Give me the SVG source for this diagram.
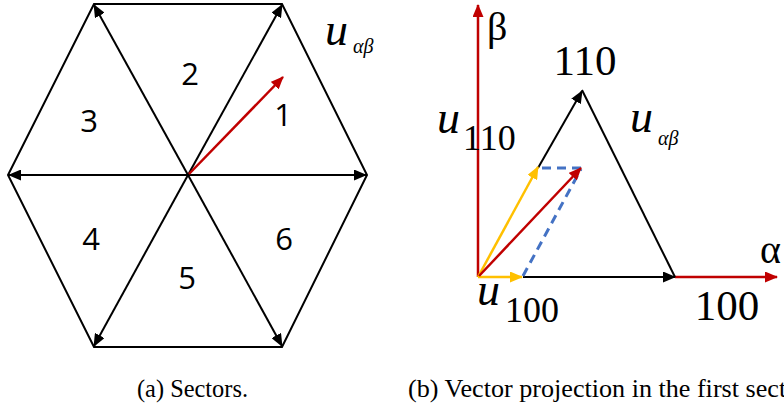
<svg xmlns="http://www.w3.org/2000/svg" width="784" height="405" viewBox="0 0 784 405">
<style>
.blk{stroke:#000;stroke-width:2;fill:none}
.red{stroke:#C00000;stroke-width:2.5;fill:none}
.ylw{stroke:#FFC000;stroke-width:2.5;fill:none}
.blu{stroke:#4472C4;stroke-width:3;fill:none;stroke-dasharray:9 6}
.dig{font-family:"Open Sans","Liberation Sans",sans-serif;font-size:31px;fill:#000;text-anchor:middle}
.mu{font-family:"Liberation Serif",serif;font-style:italic;font-size:46px;fill:#000}
.sub{font-family:"Liberation Serif",serif;font-style:italic;font-size:20px;fill:#000}
.num{font-family:"Liberation Serif",serif;font-size:43px;fill:#000}
.snum{font-family:"Liberation Serif",serif;font-size:36px;fill:#000}
.cap{font-family:"Liberation Serif","DejaVu Serif",serif;font-size:26px;fill:#000}
</style>
<defs>
<marker id="ab" markerUnits="userSpaceOnUse" viewBox="0 0 13 11" refX="12" refY="5.5" markerWidth="13" markerHeight="11" orient="auto"><path d="M0,0 L13,5.5 L0,11 z" fill="#000"/></marker>
<marker id="ar" markerUnits="userSpaceOnUse" viewBox="0 0 13 11" refX="12" refY="5.5" markerWidth="13" markerHeight="11" orient="auto"><path d="M0,0 L13,5.5 L0,11 z" fill="#C00000"/></marker>
<marker id="ay" markerUnits="userSpaceOnUse" viewBox="0 0 13 11" refX="12" refY="5.5" markerWidth="13" markerHeight="11" orient="auto"><path d="M0,0 L13,5.5 L0,11 z" fill="#FFC000"/></marker>
</defs>

<g id="hexagon">
<polygon class="blk" points="94,4 282,4 367,175 282,347 94,347 8,175"/>
</g>
<g id="connectors-a">
<line class="blk" x1="188" y1="175" x2="282" y2="5" marker-end="url(#ab)"/>
<line class="blk" x1="188" y1="175" x2="94" y2="5" marker-end="url(#ab)"/>
<line class="blk" x1="188" y1="175" x2="9" y2="175" marker-end="url(#ab)"/>
<line class="blk" x1="188" y1="175" x2="366" y2="175" marker-end="url(#ab)"/>
<line class="blk" x1="188" y1="175" x2="94" y2="346" marker-end="url(#ab)"/>
<line class="blk" x1="188" y1="175" x2="282" y2="346" marker-end="url(#ab)"/>
<line class="red" x1="189" y1="174" x2="283" y2="77" marker-end="url(#ar)"/>
</g>
<g id="sector-labels">
<text class="dig" x="190" y="85">2</text>
<text class="dig" x="89" y="132">3</text>
<text class="dig" x="283" y="126">1</text>
<text class="dig" x="91" y="250">4</text>
<text class="dig" x="187" y="289">5</text>
<text class="dig" x="284" y="250">6</text>
<text class="mu" x="325" y="45">u</text><text class="sub" x="353" y="53">αβ</text>
</g>

<g id="axes">
<line class="red" x1="478" y1="277" x2="478" y2="5" marker-end="url(#ar)"/>
<line class="red" x1="675" y1="277" x2="777" y2="277" marker-end="url(#ar)"/>
<text class="num" x="487" y="40" style="font-size:40px">β</text>
<text class="num" x="760" y="263" style="font-size:40px">α</text>
</g>
<g id="connectors-b">
<line class="blk" x1="523" y1="277" x2="675" y2="277" marker-end="url(#ab)"/>
<line class="blk" x1="675" y1="277" x2="582" y2="90"/>
<line class="blk" x1="538" y1="168" x2="582" y2="91" marker-end="url(#ab)"/>
<line class="blu" x1="542" y1="168" x2="582" y2="168"/>
<line class="blu" x1="523" y1="276" x2="581" y2="169"/>
<line class="ylw" x1="478" y1="277" x2="522" y2="277" marker-end="url(#ay)"/>
<line class="ylw" x1="478" y1="277" x2="538" y2="167" marker-end="url(#ay)"/>
<line class="red" x1="479" y1="276" x2="581" y2="168" marker-end="url(#ar)"/>
</g>
<g id="labels-b">
<text class="num" x="585" y="75" text-anchor="middle">110</text>
<text class="num" x="727" y="320" text-anchor="middle">100</text>
<text class="mu" x="437" y="133">u</text><text class="snum" x="463" y="150">110</text>
<text class="mu" x="477" y="305">u</text><text class="snum" x="505" y="322">100</text>
<text class="mu" x="630" y="132">u</text><text class="sub" x="658" y="145">αβ</text>
</g>

<g id="captions">
<text class="cap" x="137" y="397" textLength="111" lengthAdjust="spacingAndGlyphs">(a) Sectors.</text>
<text class="cap" x="408" y="397" textLength="405" lengthAdjust="spacingAndGlyphs">(b) Vector projection in the first sector.</text>
</g>
</svg>
